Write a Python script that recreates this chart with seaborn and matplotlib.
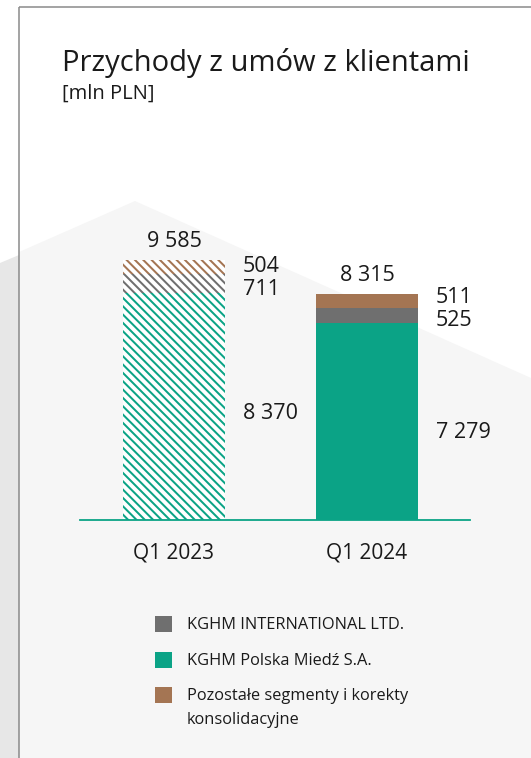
import matplotlib
matplotlib.use('Agg')
import matplotlib.pyplot as plt
import seaborn as sns
from matplotlib.patches import Polygon, Rectangle

# dane [mln PLN]
categories = ['Q1 2023', 'Q1 2024']
kghm_pm = [8370, 7279]
kghm_intl = [711, 525]
pozostale = [504, 511]
totals = [a + b + c for a, b, c in zip(kghm_pm, kghm_intl, pozostale)]

legend_labels = ['KGHM INTERNATIONAL LTD.', 'KGHM Polska Miedź S.A.',
                 'Pozostałe segmenty i korekty\nkonsolidacyjne']

c_pm = '#0ba386'
c_intl = '#6f6f6f'
c_poz = '#a47553'
txt = '#1a1a1a'

plt.rcParams['font.family'] = ['Open Sans', 'DejaVu Sans']
plt.rcParams['hatch.linewidth'] = 1.45

W, H = 531, 758
fig = plt.figure(figsize=(W / 100, H / 100), dpi=100)
fig.patch.set_facecolor('white')

# tło
bg = fig.add_axes([0, 0, 1, 1], zorder=0)
bg.set_xlim(0, W)
bg.set_ylim(H, 0)
bg.axis('off')
bg.add_patch(Polygon([(0, 263), (19, 255), (19, H), (0, H)], closed=True,
                     facecolor='#e7e7e7', edgecolor='none'))
bg.add_patch(Polygon([(19, 252), (135, 201), (W, 378), (W, H), (19, H)], closed=True,
                     facecolor='#f6f6f6', edgecolor='none'))
bg.plot([19, W], [7, 7], color='#8a8a8a', lw=1.1, solid_capstyle='butt')
bg.plot([19, 19], [7, H], color='#8a8a8a', lw=1.1, solid_capstyle='butt')

bg.text(62, 71, 'Przychody z umów z klientami', fontsize=21, color=txt, va='baseline')
bg.text(62, 99, '[mln PLN]', fontsize=14.5, color=txt, va='baseline')

# legenda
leg_colors = [c_intl, c_pm, c_poz]
leg_y = [624, 660, 695]
for col, lab, y in zip(leg_colors, legend_labels, leg_y):
    bg.add_patch(Rectangle((155, y - 8), 17, 16, facecolor=col, edgecolor='none'))
    for i, line in enumerate(lab.split('\n')):
        bg.text(187, y + 1 + i * 24, line, fontsize=11.8, color=txt, va='center')

# wykres
ax = fig.add_axes([80 / W, (H - 520) / H, 390 / W, 320 / H], zorder=2)
ax.patch.set_alpha(0)

mid = [a + b for a, b in zip(kghm_pm, kghm_intl)]
for vals, col in [(totals, c_poz), (mid, c_intl), (kghm_pm, c_pm)]:
    sns.barplot(x=categories, y=vals, color=col, saturation=1, width=0.53,
                linewidth=0, ax=ax)

# Q1 2023 - słupek kreskowany
for cont in ax.containers:
    p = cont.patches[0]
    col = p.get_facecolor()
    p.set_facecolor('white')
    p.set_edgecolor(col)
    p.set_linewidth(0)
    p.set_hatch('\\\\\\\\')

ax.set_xlim(-0.487, 1.534)
ax.set_ylim(0, 11797)
ax.set_xlabel('')
ax.set_ylabel('')
ax.set_yticks([])
for s in ['top', 'left', 'right']:
    ax.spines[s].set_visible(False)
ax.spines['bottom'].set_color(c_pm)
ax.spines['bottom'].set_linewidth(1.3)
ax.tick_params(axis='x', length=0, pad=16, labelsize=15, labelcolor=txt)

fs = 15.5
half = 0.53 / 2
for i in range(len(categories)):
    ax.annotate(f'{totals[i]:,}'.replace(',', ' '), (i, totals[i]), xytext=(0, 19),
                textcoords='offset pixels', ha='center', va='center', fontsize=fs, color=txt)
    segs = [(totals[i] - pozostale[i] / 2, pozostale[i]),
            (mid[i] - kghm_intl[i] / 2, kghm_intl[i]),
            (kghm_pm[i] / 2, kghm_pm[i])]
    offs = [[0, -6.5, -7], [4, -5, -11]][i]
    for (yc, v), o in zip(segs, offs):
        ax.annotate(f'{v:,}'.replace(',', ' '), (i + half, yc), xytext=(18, o),
                    textcoords='offset pixels', ha='left', va='center', fontsize=fs, color=txt)

fig.savefig('out.png', dpi=100)
